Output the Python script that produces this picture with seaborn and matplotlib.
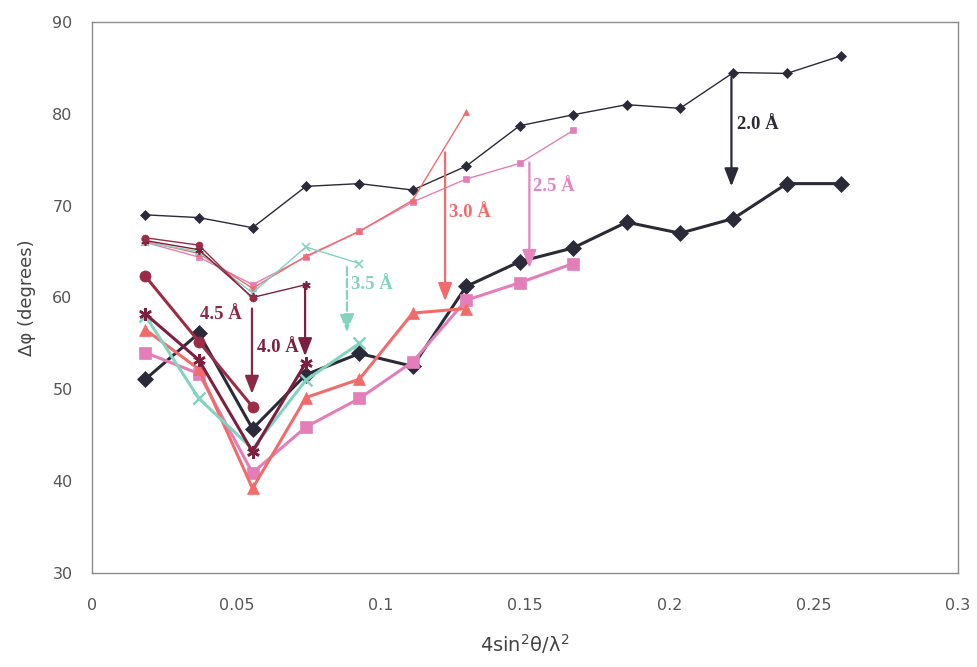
import matplotlib
matplotlib.use("Agg")
import matplotlib.pyplot as plt
import seaborn as sns
import numpy as np
import pandas as pd

sns.set_theme(style="white")
plt.rcParams['font.family'] = ['DejaVu Sans']

# x positions (4 sin^2θ / λ^2)
x_vals = [0.0185, 0.0370, 0.0556, 0.0741, 0.0926, 0.1111, 0.1296,
          0.1481, 0.1667, 0.1852, 0.2037, 0.2222, 0.2407, 0.2593]

# 2.0 Å
hi_20 = [69.0, 68.7, 67.6, 72.1, 72.4, 71.7, 74.3, 78.7, 79.9, 81.0, 80.6, 84.5, 84.4, 86.3]
lo_20 = [51.1, 56.1, 45.7, 51.6, 53.9, 52.5, 61.2, 63.9, 65.4, 68.2, 67.0, 68.6, 72.4, 72.4]
# 2.5 Å
hi_25 = [66.0, 64.4, 61.4, 64.4, 67.2, 70.4, 72.9, 74.6, 78.2]
lo_25 = [54.0, 51.7, 40.9, 45.9, 49.0, 53.0, 59.7, 61.6, 63.7]
# 3.0 Å
hi_30 = [66.1, 64.8, 61.0, 64.5, 67.2, 70.6, 80.2]
lo_30 = [56.5, 52.2, 39.2, 49.1, 51.1, 58.3, 58.8]
# 3.5 Å
hi_35 = [66.0, 65.0, 60.5, 65.5, 63.7]
lo_35 = [58.0, 49.0, 43.5, 51.0, 55.0]
# 4.0 Å
hi_40 = [66.2, 65.2, 60.0, 61.4]
lo_40 = [58.2, 53.2, 43.2, 52.9]
# 4.5 Å
hi_45 = [66.5, 65.7, 59.9]
lo_45 = [62.3, 55.2, 48.1]

series = [
    ("2.0", hi_20, lo_20, "#2a2a38", "D"),
    ("2.5", hi_25, lo_25, "#e37fb8", "s"),
    ("3.0", hi_30, lo_30, "#f26b6b", "^"),
    ("3.5", hi_35, lo_35, "#82d3bf", "x"),
    ("4.0", hi_40, lo_40, "#7d1f3e", (6, 2, 0)),
    ("4.5", hi_45, lo_45, "#9a2d45", "o"),
]

# arrows and their labels
arrow_labels = ["2.0 Å", "2.5 Å", "3.0 Å", "3.5 Å", "4.0 Å", "4.5 Å"]
arrow_x = [0.2215, 0.1515, 0.1223, 0.0883, 0.0738, 0.0554]
arrow_y0 = [84.0, 74.7, 75.8, 63.3, 61.0, 58.8]
arrow_y1 = [72.1, 63.2, 59.6, 56.2, 53.6, 49.5]
label_x = [0.2234, 0.1528, 0.1237, 0.0897, 0.0572, 0.0374]
label_y = [78.8, 72.1, 69.3, 61.4, 54.5, 58.2]
arrow_colors = ["#2a2a38", "#e685bd", "#f26b6b", "#82d3bf", "#7d1f3e", "#8b2846"]

fig = plt.figure(figsize=(9.77, 6.67), dpi=100)
ax = fig.add_axes([0.0942, 0.141, 0.8864, 0.826])

for name, hi, lo, col, mk in series:
    n = len(hi)
    xs = x_vals[:n]
    is_line_marker = mk in ("x",) or isinstance(mk, tuple)
    sns.lineplot(x=xs, y=hi, ax=ax, color=col, linewidth=1.0, marker=mk,
                 markersize=6 if is_line_marker else 5,
                 markeredgecolor=col, markerfacecolor=col,
                 markeredgewidth=1.2 if is_line_marker else 0.5,
                 sort=False, estimator=None)
    sns.lineplot(x=xs, y=lo, ax=ax, color=col, linewidth=2.2, marker=mk,
                 markersize=9 if is_line_marker else 8,
                 markeredgecolor=col, markerfacecolor=col,
                 markeredgewidth=1.8 if is_line_marker else 0.5,
                 sort=False, estimator=None)

for i in range(len(arrow_labels)):
    ls = "--" if arrow_labels[i] == "3.5 Å" else "-"
    ax.annotate("", xy=(arrow_x[i], arrow_y1[i]), xytext=(arrow_x[i], arrow_y0[i]),
                arrowprops=dict(arrowstyle="-|>,head_length=0.9,head_width=0.35",
                                color=arrow_colors[i], lw=1.6, linestyle=ls,
                                shrinkA=0, shrinkB=0))
    ax.text(label_x[i], label_y[i], arrow_labels[i],
            color=arrow_colors[i], fontsize=13.5, fontweight="bold",
            family=["Liberation Serif"], ha="left", va="center")

ax.set_xlim(0, 0.3)
ax.set_ylim(30, 90)
ax.set_xticks([0, 0.05, 0.1, 0.15, 0.2, 0.25, 0.3])
ax.set_xticklabels(["0", "0.05", "0.1", "0.15", "0.2", "0.25", "0.3"])
ax.set_yticks([30, 40, 50, 60, 70, 80, 90])
for s in ax.spines.values():
    s.set_color("#8a8a8a")
    s.set_linewidth(1.0)
ax.tick_params(axis="both", colors="#8a8a8a", labelcolor="#555555", labelsize=11.5,
               direction="out", length=4, width=1)
ax.tick_params(axis="x", pad=14)
ax.tick_params(axis="y", pad=10)
ax.set_xlabel(r"4sin$^2$θ/λ$^2$", fontsize=14, color="#444444", labelpad=14)
ax.set_ylabel("Δφ (degrees)", fontsize=13, color="#444444", labelpad=12)

fig.savefig("out.png", dpi=100)
